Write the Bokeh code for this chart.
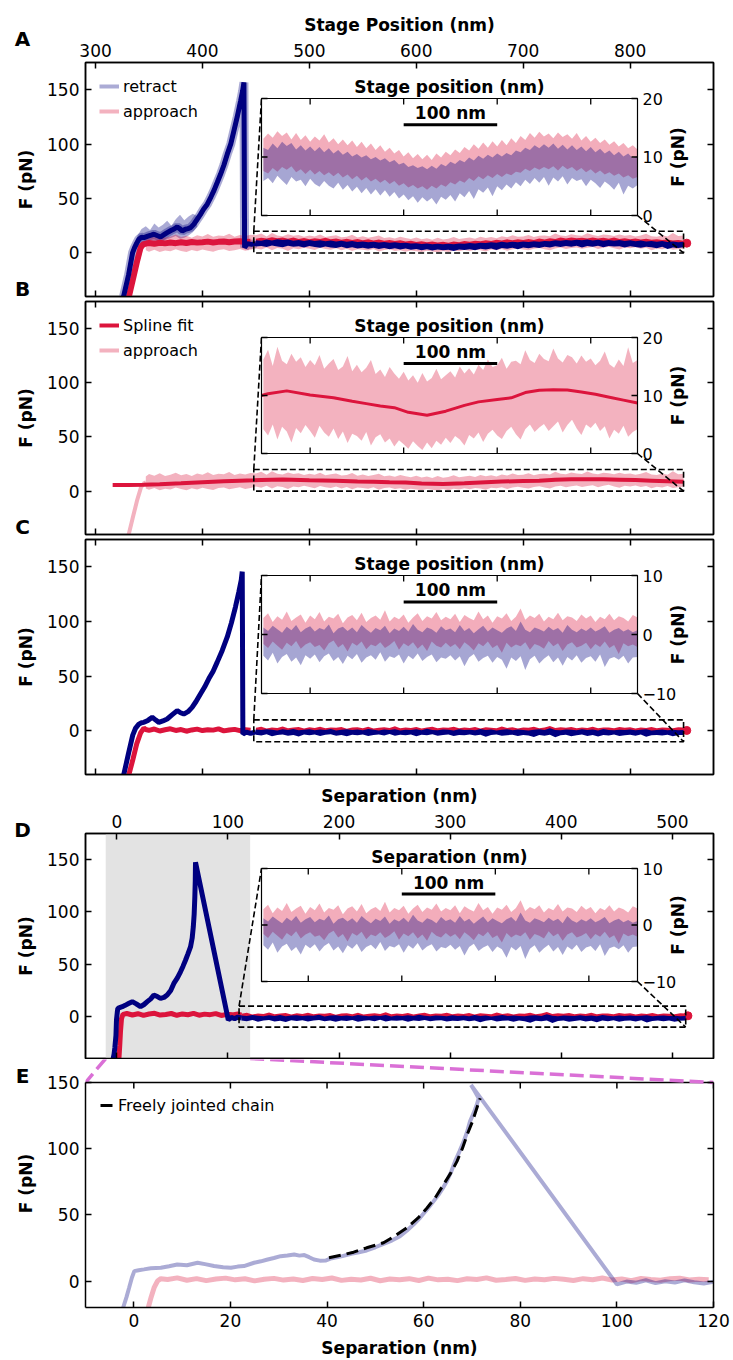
import math
from bokeh.plotting import figure
from bokeh.layouts import column
from bokeh.models import Range1d, LinearAxis, FixedTicker, Legend, LegendItem, Label
from bokeh.embed import file_html
from bokeh.resources import INLINE
from bokeh.core.properties import value

FONT = "DejaVu Sans"
NAVY = "#000080"
CRIMSON = "#DC143C"
LA = 0.33
ORCHID = "#DA70D6"
SHADE = "#e3e3e3"

# ------------------------------------------------------------------ data
STAGE_TICKS = [300, 400, 500, 600, 700, 800]
SEP_TICKS = [0, 100, 200, 300, 400, 500]
ZOOM_TICKS = [0, 20, 40, 60, 80, 100, 120]
FORCE_TICKS = [0, 50, 100, 150]
STAGE_XR = (290.6, 878.0)
SEP_XR = (-28.2, 537.0)
FORCE_YR = (-40, 175)
ZOOM_XR = (-10, 120)
ZOOM_YR = (-20, 150)

INSET_STAGE_X = (448, 850)
INSET_STAGE_TICKS = [500, 600, 700, 800]
INSET_SEP_X = (110, 512)
INSET_SEP_TICKS = [160, 260, 360, 460]
INSET_RAW_Y = (0, 20)
INSET_RAW_TICKS = [0, 10, 20]
INSET_COR_Y = (-10, 10)
INSET_COR_TICKS = [-10, 0, 10]

FLAT_STAGE = list(range(450, 851, 5))
FLAT_SEP = list(range(112, 513, 5))
PRE_STAGE = [347] + list(range(350, 446, 5))

# panel A: raw stage-position traces
A_RET_UP_X = [326.2, 330.9, 334.6, 336.5, 338.5, 340.5, 343.0, 345.2, 349.0, 352.0, 354.6, 357.5, 360.8, 364.0,
              367.0, 370.5, 373.5, 376.4, 379.0, 381.0, 384.0, 386.5, 388.9, 392.0, 395.1, 398.0, 401.0, 404.5,
              408.0, 411.0, 413.8, 417.0, 420.0, 423.2, 426.5, 429.4, 432.5, 435.7, 437.5, 438.8, 439.4, 442.0,
              446.0, 450.0]
A_RET_UP_Y = [-40, -20, 0, 4.9, 9.0, 12.6, 14.5, 14.1, 15.5, 16.4, 17.2, 16.0, 14.7, 16.8, 18.7, 20.6, 22.0,
              23.9, 22.1, 20.2, 21.8, 22.4, 23.3, 26.5, 31.0, 35.2, 40.1, 44.8, 51.6, 58.0, 64.7, 72.5, 80.6,
              90.8, 100.2, 112.2, 125.0, 139.8, 148.5, 156.7, 5.0, 8.6, 7.9, 8.7]
A_RET_HALO_X = [339, 343, 347, 351, 355, 359, 363, 367, 371, 375, 379, 383, 387, 391, 395]
A_RET_HALO_HI = [15.5, 22.0, 24.5, 21.0, 27.0, 23.5, 26.0, 29.5, 25.0, 31.0, 35.0, 30.0, 33.5, 36.0, 34.0]
A_RET_HALO_LO = [5.0, 8.5, 10.0, 9.5, 11.0, 8.0, 10.5, 12.5, 14.0, 15.5, 13.0, 14.0, 16.0, 19.0, 24.0]
A_APP_UP_X = [331.2, 335.0, 338.5, 342.1, 344.5]
A_APP_UP_Y = [-40, -24, -9, 4.9, 7.8]
A_APP_PRE_Y = [8.6, 9.1, 8.4, 9.4, 8.8, 9.6, 9.0, 9.9, 9.2, 10.1, 9.5, 9.8, 10.4, 9.7, 10.2, 10.6, 9.9, 10.5,
               10.8, 10.1, 10.4]
A_APP_HI = [13.1, 14.0, 13.3, 14.4, 13.6, 14.2, 13.0, 14.1, 12.9, 13.7,
            12.6, 13.5, 12.8, 13.9, 12.5, 13.2, 12.2, 13.0, 12.0, 12.8,
            11.7, 12.6, 11.5, 12.3, 11.2, 12.0, 10.9, 11.6, 10.6, 11.2,
            10.1, 10.8, 9.8, 10.5, 9.6, 10.4, 9.5, 10.6, 9.9, 10.9,
            10.3, 11.3, 10.7, 11.7, 11.1, 12.2, 11.4, 12.5, 11.6, 12.7,
            11.8, 12.9, 12.0, 13.2, 12.4, 13.6, 12.9, 14.1, 13.3, 14.3,
            13.5, 14.0, 13.2, 14.2, 13.4, 13.9, 13.1, 14.1, 12.8, 13.6,
            12.6, 13.3, 12.4, 13.0, 12.1, 12.7, 11.8, 12.4, 11.5, 12.0,
            11.3]
A_APP_LO = [7.6, 7.2, 8.1, 7.5, 8.3, 7.8, 8.4, 7.4, 7.9, 7.1,
            7.8, 7.0, 7.6, 6.9, 7.4, 6.7, 7.3, 6.5, 7.0, 6.2,
            6.8, 6.0, 6.6, 5.8, 6.3, 5.6, 6.1, 5.4, 5.9, 5.1,
            5.5, 4.8, 5.2, 4.6, 5.0, 4.4, 5.1, 4.6, 5.3, 4.9,
            5.7, 5.3, 6.0, 5.6, 6.4, 5.9, 6.7, 6.2, 6.9, 6.4,
            7.1, 6.6, 7.2, 6.9, 7.5, 7.3, 8.0, 7.6, 8.2, 7.8,
            8.3, 7.9, 8.4, 7.7, 8.5, 7.9, 8.3, 7.6, 8.1, 7.4,
            7.9, 7.2, 7.7, 7.0, 7.4, 6.8, 7.2, 6.5, 6.9, 6.3,
            6.6]
A_RET_HI = [11.6, 11.2, 12.3, 11.5, 12.6, 11.9, 12.4, 11.3, 12.0, 11.1,
            11.8, 11.0, 11.7, 10.8, 11.5, 10.6, 11.2, 10.4, 10.9, 10.1,
            10.5, 9.9, 10.3, 9.6, 10.0, 9.4, 9.8, 9.1, 9.5, 8.7,
            9.0, 8.3, 8.6, 8.1, 8.4, 7.9, 8.5, 8.0, 8.8, 8.4,
            9.2, 8.8, 9.5, 9.1, 9.9, 9.4, 10.2, 9.7, 10.4, 9.9,
            10.6, 10.1, 10.7, 10.3, 11.1, 10.8, 11.6, 11.2, 12.0, 11.5,
            12.2, 11.6, 12.3, 11.4, 12.1, 11.3, 12.0, 11.2, 11.8, 11.0,
            11.7, 10.8, 11.4, 10.6, 11.1, 10.3, 10.9, 10.1, 10.6, 9.8,
            10.2]
A_RET_LO = [5.9, 6.4, 5.5, 6.8, 6.0, 5.2, 6.6, 5.8, 6.1, 5.0,
            6.3, 5.4, 4.9, 5.9, 5.1, 4.6, 5.6, 4.4, 5.2, 4.1,
            4.9, 3.8, 4.7, 3.6, 4.5, 3.4, 4.3, 3.2, 4.0, 2.9,
            3.6, 2.6, 3.3, 2.2, 3.1, 2.4, 3.0, 1.9, 3.2, 2.7,
            3.5, 2.4, 3.8, 3.1, 4.2, 2.8, 4.5, 3.9, 4.8, 3.3,
            5.0, 4.3, 5.3, 4.6, 5.7, 5.0, 6.1, 5.4, 6.4, 5.6,
            6.6, 5.1, 6.5, 5.8, 6.7, 5.3, 6.4, 5.9, 6.2, 5.0,
            6.1, 5.5, 4.7, 5.8, 5.2, 4.4, 5.6, 3.6, 5.1, 4.6,
            5.2]
A_APP_END = ([853], [9.0])

# raw (unfiltered) approach, shared by A halo and B
RAW_UP_X = [331.0, 335.2, 339.0, 342.5, 345.5, 347.0]
RAW_UP_Y = [-40, -23, -8, 3.5, 7.5, 8.0]
RAW_PRE_HI = [13.5, 15.8, 14.2, 16.5, 13.9, 15.1, 17.0, 14.6, 15.9, 14.0, 16.3, 15.2, 17.4, 14.8, 16.0, 15.5,
              17.6, 15.0, 16.4, 15.3, 16.8]
RAW_PRE_LO = [2.5, 1.2, 3.0, 0.8, 2.2, 1.6, 3.3, 1.9, 0.9, 2.7, 1.5, 3.1, 2.0, 1.1, 2.8, 3.4, 1.7, 2.6, 3.6,
              2.1, 3.0]
B_APP_HI = [16.2, 17.9, 15.1, 18.4, 16.0, 15.4, 17.2, 15.8, 16.6, 14.9,
            16.1, 15.2, 17.0, 14.6, 15.5, 16.3, 14.4, 15.0, 16.8, 14.2,
            15.3, 14.0, 14.8, 16.1, 13.7, 14.5, 13.2, 14.9, 13.8, 12.9,
            14.1, 12.6, 13.5, 12.2, 13.9, 12.4, 13.0, 14.6, 12.8, 13.5,
            14.2, 13.1, 15.0, 13.8, 14.7, 13.6, 15.3, 14.4, 16.2, 14.9,
            15.2, 16.5, 14.6, 15.8, 16.0, 15.4, 17.8, 16.1, 15.6, 17.2,
            16.3, 15.9, 18.1, 16.4, 15.7, 17.0, 16.6, 15.5, 16.9, 15.8,
            16.4, 15.2, 16.0, 17.6, 15.4, 14.8, 16.2, 15.1, 18.3, 15.6,
            16.1]
B_APP_LO = [4.2, 3.1, 5.0, 2.4, 4.6, 3.8, 1.9, 4.4, 3.5, 4.9,
            3.9, 2.7, 4.8, 3.6, 2.9, 4.3, 2.5, 3.8, 1.8, 3.4,
            3.0, 2.2, 3.7, 1.4, 2.8, 3.3, 1.9, 2.6, 1.2, 2.3,
            1.6, 0.8, 2.1, 1.3, 0.6, 1.9, 0.9, 2.2, 1.5, 2.7,
            1.8, 3.0, 2.4, 1.4, 3.2, 2.6, 3.6, 2.0, 3.4, 4.1,
            3.1, 2.5, 3.9, 4.6, 3.3, 2.4, 4.2, 5.0, 3.7, 4.5,
            5.1, 3.9, 4.7, 5.5, 3.6, 4.9, 5.8, 4.3, 3.2, 5.0,
            4.4, 5.3, 3.9, 4.7, 2.6, 4.1, 3.4, 4.8, 2.9, 3.7,
            4.2]
SPLINE_X = [316, 330, 345, 360, 380, 400, 420, 435, 448, 455, 475, 500, 525, 545, 560, 575, 590, 605, 625, 645,
            665, 680, 700, 715, 730, 745, 760, 775, 790, 805, 820, 835, 850]
SPLINE_Y = [5.6, 5.6, 5.8, 6.3, 7.2, 8.2, 9.1, 9.6, 10.0, 10.3, 10.8, 10.1, 9.6, 9.0, 8.6, 8.2, 7.9, 7.1, 6.6,
            7.3, 8.3, 8.9, 9.3, 9.6, 10.5, 10.9, 11.0, 10.95, 10.6, 10.2, 9.7, 9.2, 8.7]

# panel C: baseline-corrected
C_RET_UP_X = [326.4, 331.0, 334.8, 337.5, 340.5, 343.0, 345.2, 349.0, 353.0, 356.0, 359.2, 363.0, 367.0, 371.5,
              376.4, 379.5, 382.5, 386.5, 390.3, 394.0, 398.1, 402.0, 405.9, 410.0, 413.8, 418.5, 423.2, 427.0,
              430.9, 434.0, 436.3, 437.2, 437.8, 441.0, 445.0, 450.0]
C_RET_UP_Y = [-40, -20, -4, 2.5, 6.1, 7.4, 7.7, 9.5, 12.3, 10.0, 7.7, 9.0, 10.8, 14.5, 18.4, 16.5, 15.3, 17.5,
              21.4, 26.8, 33.7, 40.0, 47.5, 54.5, 62.8, 73.5, 85.8, 98.5, 113.4, 127.0, 138.0, 145.6, -3.0, -1.2,
              -2.4, -1.0]
C_APP_UP_X = [331.2, 335.0, 338.5, 342.1, 345.2]
C_APP_UP_Y = [-40, -26, -12, -2.0, 2.5]
C_APP_PRE_Y = [1.2, 0.4, 1.6, -0.2, 0.9, 1.8, 0.3, 1.1, -0.4, 0.8, 1.5, 0.2, 1.0, 0.6, 1.7, -0.1, 0.7, 1.3,
               0.1, 0.9, 0.5]
C_APP_HI = [2.8, 3.6, 2.1, 3.1, 2.5, 3.9, 2.3, 2.9, 3.4, 2.0,
            3.2, 2.6, 3.8, 2.2, 3.0, 2.7, 3.5, 1.9, 2.9, 3.3,
            2.4, 3.7, 2.1, 2.8, 3.2, 2.5, 4.1, 2.2, 3.0, 2.6,
            3.4, 2.0, 2.9, 3.6, 2.3, 3.1, 2.7, 3.8, 2.4, 3.0,
            2.6, 3.5, 2.1, 3.3, 2.8, 2.4, 3.9, 2.6, 3.2, 2.0,
            3.1, 2.7, 3.6, 2.3, 3.0, 4.4, 2.5, 3.2, 2.8, 3.5,
            2.2, 3.0, 2.6, 3.7, 2.4, 3.1, 2.9, 2.3, 3.4, 2.7,
            3.2, 2.1, 3.0, 2.6, 3.5, 2.4, 3.1, 2.8, 2.2, 3.3,
            2.9]
C_APP_LO = [-1.6, -2.3, -1.2, -1.9, -2.6, -1.4, -2.0, -1.1, -2.4, -1.7,
            -1.3, -2.1, -1.8, -2.7, -1.5, -1.0, -2.2, -1.6, -2.9, -1.4,
            -1.9, -1.2, -2.5, -1.7, -2.0, -1.3, -2.3, -1.8, -1.1, -2.6,
            -1.5, -2.0, -1.3, -2.4, -1.7, -2.8, -1.2, -1.9, -2.2, -1.4,
            -2.1, -1.6, -2.5, -1.3, -1.9, -2.7, -1.5, -2.0, -1.2, -2.3,
            -1.8, -3.1, -1.4, -2.2, -1.7, -2.0, -1.3, -2.6, -1.6, -1.9,
            -2.4, -1.1, -2.0, -1.5, -2.8, -1.7, -1.3, -2.2, -1.9, -1.4,
            -2.5, -1.6, -2.1, -1.2, -2.3, -1.8, -3.3, -1.5, -2.0, -1.7,
            -2.1]
C_RET_HI = [1.2, 0.6, 1.5, 0.9, 0.3, 1.3, 0.7, 1.6, 0.4, 1.0,
            1.4, 0.5, 1.1, 0.8, 1.7, 0.2, 1.0, 1.3, 0.6, 1.2,
            0.4, 1.6, 0.9, 0.3, 1.1, 0.7, 1.5, 0.2, 1.0, 0.6,
            1.3, 0.5, 1.8, 0.8, 0.4, 1.2, 0.9, 0.3, 1.4, 0.7,
            1.0, 0.4, 1.6, 0.6, 1.1, 0.2, 0.9, 1.5, 0.5, 1.2,
            0.7, 0.3, 1.0, 1.4, 0.6, 2.2, 0.8, 0.4, 1.2, 0.9,
            0.5, 1.3, 0.7, 1.1, 0.3, 1.6, 0.8, 0.4, 1.0, 0.6,
            1.2, 0.5, 0.9, 1.4, 0.3, 0.8, 1.1, 0.5, 0.9, 0.4,
            0.7]
C_RET_LO = [-3.6, -4.4, -3.1, -4.9, -3.8, -3.3, -4.6, -3.9, -5.2, -3.5,
            -4.1, -3.4, -4.7, -3.7, -3.2, -4.5, -3.8, -5.0, -3.6, -4.2,
            -3.3, -4.8, -3.9, -3.5, -4.3, -3.0, -4.6, -3.7, -4.0, -3.4,
            -4.9, -3.6, -4.2, -3.2, -4.5, -3.8, -3.4, -4.7, -3.9, -4.1,
            -3.5, -4.4, -3.7, -5.4, -3.9, -3.3, -4.6, -4.0, -3.6, -4.8,
            -3.8, -4.3, -5.8, -3.9, -4.5, -3.7, -6.0, -4.2, -3.6, -4.9,
            -4.1, -3.5, -4.7, -3.9, -5.3, -3.8, -4.4, -3.5, -4.8, -4.0,
            -3.7, -4.6, -3.4, -5.5, -4.1, -3.8, -4.3, -3.6, -4.9, -3.9,
            -3.8]
C_APP_END = ([853], [0.3])

# panel D: versus separation
D_RET_X = [-3.3, -2.5, -1.8, -0.8, -0.3, 0.4, 0.9, 2.5, 4.9, 7.5, 10.5, 13.9, 17.5, 21.3, 24.5, 27.4, 30.5,
           33.3, 36.5, 39.3, 42.5, 45.3, 48.5, 51.3, 54.5, 57.3, 59.5, 61.8, 64.0, 66.3, 67.8, 68.8, 69.6, 70.2,
           70.6, 70.8, 100.3, 103, 106, 109, 112]
D_RET_Y = [-40, -36, -30, -18, -3.1, 4.0, 8.0, 8.6, 9.5, 10.8, 12.5, 14.3, 12.2, 9.5, 11.6, 14.3, 17.0, 20.6,
           19.2, 17.5, 18.4, 20.6, 25.0, 31.7, 37.0, 42.8, 48.0, 53.9, 60.0, 66.6, 75.0, 85.6, 98.0, 114.2,
           130.0, 147.5, -3.1, -0.8, -1.9, -0.5, -1.3]
D_APP_X = [1.9, 2.6, 3.3, 4.2, 5.5, 9, 14, 19, 24, 29, 34, 39, 44, 49, 54, 59, 64, 69, 74, 79, 84, 89, 94, 99,
           104, 109, 112]
D_APP_Y = [-40, -28, -14, -2, 2.2, 3.0, 1.6, 2.8, 1.2, 2.5, 3.2, 1.5, 2.1, 3.0, 1.3, 2.6, 1.8, 3.1, 1.4, 2.4,
           1.9, 2.9, 1.1, 2.2, 1.7, 2.5, 1.4]
D_APP_END = ([514], [0.8])

# panel E: zoom, separation
E_RET_X = [-2.2, -1.5, -1.0, -0.4, 0.1, 1.0, 2.1, 3.5, 5.6, 7.3, 9.0, 11.0, 13.2, 15.0, 16.6, 18.5, 20.1, 21.5,
           22.8, 24.9, 26.3, 27.7, 29.0, 30.4, 31.8, 33.2, 34.3, 35.3, 36.3, 37.3, 38.5, 39.8, 40.7, 41.5, 43.2,
           45.0, 46.6, 48.2, 50.0, 51.7, 53.4, 55.1, 56.5, 57.9, 59.3, 60.7, 62.0, 63.1, 64.0, 64.8, 65.7, 66.5,
           67.4, 68.3, 69.0, 69.6, 70.3, 71.0, 71.4, 70.5, 69.8, 100.0, 102, 104, 106, 108, 110, 112, 114, 116,
           118, 120]
E_RET_Y = [-20, -12, -5.5, 2.5, 7.5, 8.2, 8.8, 9.6, 10.0, 11.2, 12.5, 11.9, 13.8, 12.6, 11.3, 10.4, 10.0, 10.9,
           11.3, 13.8, 14.9, 16.3, 17.4, 18.8, 19.3, 20.1, 19.2, 19.6, 18.0, 16.3, 15.4, 15.6, 16.9, 17.6, 18.8,
           20.6, 21.7, 23.1, 25.5, 28.1, 30.6, 33.9, 38.0, 42.7, 48.0, 54.0, 60.0, 65.3, 70.3, 75.4, 82.6, 90.4,
           97.8, 105.5, 112.8, 120.6, 126.5, 133.2, 138.1, 144.0, 148.2, -2.5, -0.4, -1.3, 0.6, -1.6, -0.2,
           -1.1, 0.5, -0.9, -1.8, -0.6]
E_APP_X = [3.0, 3.6, 4.2, 4.9, 5.6] + list(range(7, 120, 2))
E_APP_Y = [-20, -12, -5, 0, 1.8,
           1.2, 2.4, 0.6, 1.8, 0.3, 1.5, 2.2, 0.9, 1.7, 0.1, 1.4, 2.0, 0.7, 1.6, 0.4, 1.9, 1.1, 2.3, 0.5, 1.3,
           0.8, 2.1, 0.2, 1.5, 1.0, 1.8, 0.4, 2.2, 0.9, 1.4, 0.3, 1.7, 1.1, 2.4, 0.6, 1.2, 1.9, 0.5, 1.6, 0.9,
           2.0, 1.3, 0.4, 1.8, 1.0, 2.3, 0.7, 1.5, 0.2, 1.9, 1.2, 0.6, 1.7, 2.1, 0.8, 1.4, 1.0]
FJC_X = [40.4, 43.0, 45.5, 48.2, 51.7, 54.0, 56.5, 58.8, 60.7, 62.5, 64.1, 65.6, 66.9, 68.0, 69.0, 70.1, 71.0, 71.7]
FJC_Y = [17.6, 19.6, 21.8, 25.1, 28.9, 34.0, 40.2, 47.5, 55.2, 63.5, 72.8, 81.5, 90.4, 100.0, 110.5, 120.5,
         130.6, 138.1]

# ------------------------------------------------------------------ layout geometry (page pixels)
W = 733
FL, FR = 85, 20
FW = W - FL - FR
# every canvas is widened on the left by SHIFT px and pulled back with a negative margin, so the
# left border has a fixed size whatever the axis and panel letters need
SHIFT = 45
ROW_H = [300, 238, 239, 282, 301]
E_GAP = 23   # panel E's frame is stretched up over the gap so the zoom connectors can be drawn in it
MAIN_TB = [(62, 4), (1, 4), (1, 3), (56, 1), (0, 53)]
INSET_BOX = [(98, 215), (37, 153), (37, 155), (91, 204)]   # row-relative top / bottom of inset frames
IL, IRX = 261, 637
ROW_Y0 = [sum(ROW_H[:i]) for i in range(5)]
DASH = "6 3"
E_FH = ROW_H[4] - MAIN_TB[4][0] - MAIN_TB[4][1]
E_YR = (ZOOM_YR[0], ZOOM_YR[1] + E_GAP * (ZOOM_YR[1] - ZOOM_YR[0]) / (E_FH - E_GAP))


def style_axis(ax, tk, show, size="17px"):
    ax.ticker = FixedTicker(ticks=tk)
    ax.major_tick_in = 6
    ax.major_tick_out = 0
    ax.minor_tick_in = 0
    ax.minor_tick_out = 0
    ax.major_tick_line_width = 1.5
    ax.major_tick_line_color = "black"
    ax.axis_line_width = 1.5
    ax.axis_line_color = "black"
    ax.major_label_text_font = FONT
    ax.major_label_text_color = "black"
    ax.axis_label_text_font = FONT
    ax.axis_label_text_font_style = "bold"
    ax.axis_label_text_font_size = "17px"
    ax.axis_label_text_color = "black"
    if show:
        ax.major_label_text_font_size = size
        ax.major_label_standoff = 6
    else:
        ax.major_label_text_font_size = "0px"
        ax.major_label_text_color = None
        ax.major_label_standoff = 0


def main_fig(row, xr, yr, xticks, yticks, top_label=None, bottom_label=None, top_axis=True, ybounds=None):
    top, bottom = MAIN_TB[row]
    p = figure(width=W + 2 * SHIFT, height=ROW_H[row], x_range=Range1d(*xr), y_range=Range1d(*yr),
               output_backend="svg", toolbar_location=None, margin=(0, 0, 0, -SHIFT),
               min_border_left=FL + SHIFT, min_border_right=FR, min_border_top=top, min_border_bottom=bottom)
    p.grid.visible = False
    p.outline_line_color = "black" if top_axis else None
    p.outline_line_width = 1.5
    style_axis(p.xaxis[0], xticks, bottom_label is not None)
    if bottom_label:
        p.xaxis[0].axis_label = bottom_label
        p.xaxis[0].axis_label_standoff = 8
    style_axis(p.yaxis[0], yticks, True)
    p.yaxis[0].axis_label = "F (pN)"
    p.yaxis[0].axis_label_standoff = 8
    if ybounds:
        p.yaxis[0].bounds = ybounds
    if top_axis:
        ta = LinearAxis()
        style_axis(ta, xticks, top_label is not None)
        if top_label:
            ta.axis_label = top_label
            ta.axis_label_standoff = 6
        p.add_layout(ta, "above")
    ra = LinearAxis()
    style_axis(ra, yticks, False)
    if ybounds:
        ra.bounds = ybounds
    p.add_layout(ra, "right")
    return p


def px_to_data(row, px, py, xr, yr):
    top, bottom = MAIN_TB[row]
    fh = ROW_H[row] - top - bottom
    x = xr[0] + (px - FL) / FW * (xr[1] - xr[0])
    y = yr[1] - (py - top) / fh * (yr[1] - yr[0])
    return x, y


def open_inset(p, row, wx, wy):
    """Inset scales (extra ranges) placing the window wx*wy on the inset rectangle."""
    top, bottom = MAIN_TB[row]
    fh = ROW_H[row] - top - bottom
    it, ib = INSET_BOX[row]
    kx = (IRX - IL) / (wx[1] - wx[0])
    ky = (ib - it) / (wy[1] - wy[0])
    xs = wx[0] - (IL - FL) / kx
    ye = wy[1] + (it - top) / ky
    p.extra_x_ranges = {"ix": Range1d(xs, xs + FW / kx)}
    p.extra_y_ranges = {"iy": Range1d(ye - fh / ky, ye)}
    R = dict(x_range_name="ix", y_range_name="iy")
    p.quad(left=[wx[0]], right=[wx[1]], bottom=[wy[0]], top=[wy[1]], fill_color="white", line_color=None, **R)
    return R, kx, ky


def close_inset(p, R, kx, ky, wx, wy, xticks, yticks, ylabels, title):
    p.quad(left=[wx[0]], right=[wx[1]], bottom=[wy[0]], top=[wy[1]], fill_color=None,
           line_color="black", line_width=1.2, **R)
    tx, ty = 6 / kx, 6 / ky
    n, m = len(xticks), len(yticks)
    p.segment(x0=xticks, x1=xticks, y0=[wy[1]] * n, y1=[wy[1] - ty] * n, line_color="black", line_width=1.3, **R)
    p.segment(x0=xticks, x1=xticks, y0=[wy[0]] * n, y1=[wy[0] + ty] * n, line_color="black", line_width=1.3, **R)
    p.segment(x0=[wx[0]] * m, x1=[wx[0] + tx] * m, y0=yticks, y1=yticks, line_color="black", line_width=1.3, **R)
    p.segment(x0=[wx[1]] * m, x1=[wx[1] - tx] * m, y0=yticks, y1=yticks, line_color="black", line_width=1.3, **R)
    p.text(x=[wx[1] + 5 / kx] * m, y=yticks, text=ylabels, text_font=value(FONT), text_font_size="16px",
           text_align="left", text_baseline="middle", text_color="black", **R)
    p.text(x=[wx[1] + 40 / kx], y=[(wy[0] + wy[1]) / 2], text=["F (pN)"], angle=math.pi / 2,
           text_font=value(FONT), text_font_style="bold", text_font_size="17px", text_align="center",
           text_baseline="middle", text_color="black", **R)
    p.text(x=[(wx[0] + wx[1]) / 2], y=[wy[1] + 11.5 / ky], text=[title], text_font=value(FONT),
           text_font_style="bold", text_font_size="17px", text_align="center", text_baseline="middle",
           text_color="black", **R)
    # 100 nm scale bar between the 2nd and 3rd inset ticks
    yb = wy[0] + 0.775 * (wy[1] - wy[0])
    yt = wy[0] + 0.875 * (wy[1] - wy[0])
    p.line(x=[xticks[1], xticks[2]], y=[yb, yb], line_color="black", line_width=3, **R)
    p.text(x=[(xticks[1] + xticks[2]) / 2], y=[yt], text=["100 nm"], text_font=value(FONT),
           text_font_style="bold", text_font_size="17px", text_align="center", text_baseline="middle",
           text_color="black", **R)


def mark_inset(p, row, xr, yr, box_x, box_y):
    p.quad(left=[box_x[0]], right=[box_x[1]], bottom=[box_y[0]], top=[box_y[1]], fill_color=None,
           line_color="black", line_dash=DASH, line_width=1.6)
    it, ib = INSET_BOX[row]
    tl = px_to_data(row, IL, it, xr, yr)
    br = px_to_data(row, IRX, ib, xr, yr)
    p.line(x=[box_x[0], tl[0]], y=[box_y[1], tl[1]], line_color="black", line_dash=DASH, line_width=1.6)
    p.line(x=[br[0], box_x[1]], y=[br[1], box_y[0]], line_color="black", line_dash=DASH, line_width=1.6)


def add_legend(p, entries, width=20, location="top_left"):
    leg = Legend(items=[LegendItem(label=l, renderers=[r]) for l, r in entries], location=location)
    leg.border_line_color = None
    leg.background_fill_alpha = 0
    leg.label_text_font = FONT
    leg.label_text_font_size = "16px"
    leg.label_text_color = "black"
    leg.glyph_width = width
    leg.glyph_height = 20
    leg.label_height = 20
    leg.spacing = 5
    leg.padding = 0
    leg.margin = 14
    leg.label_standoff = 4
    p.add_layout(leg)


def letter(p, text, cy):
    """Panel letter in canvas pixels (kept in the left side panel, so it is not clipped to the frame)."""
    p.add_layout(Label(x=22 + SHIFT, y=cy, x_units="canvas", y_units="canvas", text=text, text_font=FONT,
                       text_font_style="bold", text_font_size="20px", text_align="center",
                       text_baseline="middle", text_color="black"), "left")


MINUS_LABELS = ["\u221210", "0", "10"]

# ------------------------------------------------------------------ panel A
pA = main_fig(0, STAGE_XR, FORCE_YR, STAGE_TICKS, FORCE_TICKS, top_label="Stage Position (nm)")
pA.varea(x=A_RET_HALO_X, y1=A_RET_HALO_LO, y2=A_RET_HALO_HI, fill_color=NAVY, fill_alpha=LA)
pA.line(x=A_RET_UP_X, y=A_RET_UP_Y, line_color=NAVY, line_alpha=LA, line_width=9)
legA_ret = pA.line(x=A_RET_UP_X, y=A_RET_UP_Y, line_color=NAVY, line_alpha=LA, line_width=4)
legA_app = pA.line(x=RAW_UP_X, y=RAW_UP_Y, line_color=CRIMSON, line_alpha=LA, line_width=4)
pA.varea(x=PRE_STAGE + FLAT_STAGE, y1=RAW_PRE_LO + B_APP_LO, y2=RAW_PRE_HI + B_APP_HI,
         fill_color=CRIMSON, fill_alpha=LA)
pA.line(x=A_APP_UP_X + PRE_STAGE, y=A_APP_UP_Y + A_APP_PRE_Y, line_color=CRIMSON, line_width=6)
pA.varea(x=FLAT_STAGE, y1=A_APP_LO, y2=A_APP_HI, fill_color=CRIMSON)
pA.scatter(x=A_APP_END[0], y=A_APP_END[1], size=8, color=CRIMSON)
pA.line(x=A_RET_UP_X, y=A_RET_UP_Y, line_color=NAVY, line_width=5)
pA.varea(x=FLAT_STAGE, y1=A_RET_LO, y2=A_RET_HI, fill_color=NAVY)
mark_inset(pA, 0, STAGE_XR, FORCE_YR, INSET_STAGE_X, INSET_RAW_Y)
R, kx, ky = open_inset(pA, 0, INSET_STAGE_X, INSET_RAW_Y)
pA.varea(x=FLAT_STAGE, y1=A_APP_LO, y2=A_APP_HI, fill_color=CRIMSON, fill_alpha=0.35, **R)
pA.varea(x=FLAT_STAGE, y1=A_RET_LO, y2=A_RET_HI, fill_color=NAVY, fill_alpha=0.35, **R)
close_inset(pA, R, kx, ky, INSET_STAGE_X, INSET_RAW_Y, INSET_STAGE_TICKS, INSET_RAW_TICKS,
            ["0", "10", "20"], "Stage position (nm)")
add_legend(pA, [("retract", legA_ret), ("approach", legA_app)])
letter(pA, "A", 38)
letter(pA, "B", 288)

# ------------------------------------------------------------------ panel B
pB = main_fig(1, STAGE_XR, FORCE_YR, STAGE_TICKS, FORCE_TICKS)
legB_app = pB.line(x=RAW_UP_X, y=RAW_UP_Y, line_color=CRIMSON, line_alpha=LA, line_width=4)
pB.varea(x=PRE_STAGE + FLAT_STAGE, y1=RAW_PRE_LO + B_APP_LO, y2=RAW_PRE_HI + B_APP_HI,
         fill_color=CRIMSON, fill_alpha=LA)
legB_fit = pB.line(x=SPLINE_X, y=SPLINE_Y, line_color=CRIMSON, line_width=4)
mark_inset(pB, 1, STAGE_XR, FORCE_YR, INSET_STAGE_X, INSET_RAW_Y)
R, kx, ky = open_inset(pB, 1, INSET_STAGE_X, INSET_RAW_Y)
i0 = SPLINE_X.index(INSET_STAGE_X[0])
pB.varea(x=FLAT_STAGE, y1=B_APP_LO, y2=B_APP_HI, fill_color=CRIMSON, fill_alpha=LA, **R)
pB.line(x=SPLINE_X[i0:], y=SPLINE_Y[i0:], line_color=CRIMSON, line_width=3, **R)
close_inset(pB, R, kx, ky, INSET_STAGE_X, INSET_RAW_Y, INSET_STAGE_TICKS, INSET_RAW_TICKS,
            ["0", "10", "20"], "Stage position (nm)")
add_legend(pB, [("Spline fit", legB_fit), ("approach", legB_app)])
letter(pB, "C", 226)

# ------------------------------------------------------------------ panel C
pC = main_fig(2, STAGE_XR, FORCE_YR, STAGE_TICKS, FORCE_TICKS)
pC.line(x=C_APP_UP_X + PRE_STAGE, y=C_APP_UP_Y + C_APP_PRE_Y, line_color=CRIMSON, line_width=5)
pC.varea(x=FLAT_STAGE, y1=C_APP_LO, y2=C_APP_HI, fill_color=CRIMSON)
pC.scatter(x=C_APP_END[0], y=C_APP_END[1], size=8, color=CRIMSON)
pC.line(x=C_RET_UP_X, y=C_RET_UP_Y, line_color=NAVY, line_width=5)
pC.varea(x=FLAT_STAGE, y1=C_RET_LO, y2=C_RET_HI, fill_color=NAVY)
mark_inset(pC, 2, STAGE_XR, FORCE_YR, INSET_STAGE_X, INSET_COR_Y)
R, kx, ky = open_inset(pC, 2, INSET_STAGE_X, INSET_COR_Y)
pC.varea(x=FLAT_STAGE, y1=C_APP_LO, y2=C_APP_HI, fill_color=CRIMSON, fill_alpha=0.35, **R)
pC.varea(x=FLAT_STAGE, y1=C_RET_LO, y2=C_RET_HI, fill_color=NAVY, fill_alpha=0.35, **R)
close_inset(pC, R, kx, ky, INSET_STAGE_X, INSET_COR_Y, INSET_STAGE_TICKS, INSET_COR_TICKS,
            MINUS_LABELS, "Stage position (nm)")

# ------------------------------------------------------------------ panel D
pD = main_fig(3, SEP_XR, FORCE_YR, SEP_TICKS, FORCE_TICKS, top_label="Separation (nm)")
pD.quad(left=[ZOOM_XR[0]], right=[ZOOM_XR[1]], bottom=[FORCE_YR[0]], top=[FORCE_YR[1]],
        fill_color=SHADE, line_color=None)
pD.line(x=D_APP_X, y=D_APP_Y, line_color=CRIMSON, line_width=5)
pD.varea(x=FLAT_SEP, y1=C_APP_LO, y2=C_APP_HI, fill_color=CRIMSON)
pD.scatter(x=D_APP_END[0], y=D_APP_END[1], size=8, color=CRIMSON)
pD.line(x=D_RET_X, y=D_RET_Y, line_color=NAVY, line_width=5)
pD.varea(x=FLAT_SEP, y1=C_RET_LO, y2=C_RET_HI, fill_color=NAVY)
mark_inset(pD, 3, SEP_XR, FORCE_YR, INSET_SEP_X, INSET_COR_Y)
R, kx, ky = open_inset(pD, 3, INSET_SEP_X, INSET_COR_Y)
pD.varea(x=FLAT_SEP, y1=C_APP_LO, y2=C_APP_HI, fill_color=CRIMSON, fill_alpha=0.35, **R)
pD.varea(x=FLAT_SEP, y1=C_RET_LO, y2=C_RET_HI, fill_color=NAVY, fill_alpha=0.35, **R)
close_inset(pD, R, kx, ky, INSET_SEP_X, INSET_COR_Y, INSET_SEP_TICKS, INSET_COR_TICKS,
            MINUS_LABELS, "Separation (nm)")
letter(pD, "D", 52)

# ------------------------------------------------------------------ panel E
pE = main_fig(4, ZOOM_XR, E_YR, ZOOM_TICKS, FORCE_TICKS, bottom_label="Separation (nm)",
              top_axis=False, ybounds=ZOOM_YR)
ky_e = (E_FH - E_GAP) / (ZOOM_YR[1] - ZOOM_YR[0])
# top edge of E's plotting box with inward ticks
pE.line(x=list(ZOOM_XR), y=[ZOOM_YR[1]] * 2, line_color="black", line_width=1.5)
pE.segment(x0=ZOOM_TICKS, x1=ZOOM_TICKS, y0=[ZOOM_YR[1]] * len(ZOOM_TICKS),
           y1=[ZOOM_YR[1] - 6 / ky_e] * len(ZOOM_TICKS), line_color="black", line_width=1.5)
pE.line(x=E_APP_X, y=E_APP_Y, line_color=CRIMSON, line_alpha=LA, line_width=5)
pE.line(x=E_RET_X, y=E_RET_Y, line_color=NAVY, line_alpha=LA, line_width=4)
fjc = pE.line(x=FJC_X, y=FJC_Y, line_color="black", line_width=3, line_dash="12 6")
add_legend(pE, [("Freely jointed chain", fjc)], width=14, location=(15, E_FH - E_GAP - 33))
letter(pE, "E", 16.5)
# zoom connectors: from the shaded window at D's lower edge to the corners of E's box
sx0 = FL + (ZOOM_XR[0] - SEP_XR[0]) / (SEP_XR[1] - SEP_XR[0]) * FW
sx1 = FL + (ZOOM_XR[1] - SEP_XR[0]) / (SEP_XR[1] - SEP_XR[0]) * FW
c0 = px_to_data(4, sx0, -1, ZOOM_XR, E_YR)
c1 = px_to_data(4, sx1, -1, ZOOM_XR, E_YR)
pE.line(x=[c0[0], ZOOM_XR[0]], y=[c0[1], ZOOM_YR[1]], line_color=ORCHID, line_width=3.5, line_dash="14 6")
pE.line(x=[c1[0], ZOOM_XR[1]], y=[c1[1], ZOOM_YR[1]], line_color=ORCHID, line_width=3.5, line_dash="14 6")

layout = column(pA, pB, pC, pD, pE, spacing=0)
open("out.html", "w").write(file_html(layout, INLINE))
